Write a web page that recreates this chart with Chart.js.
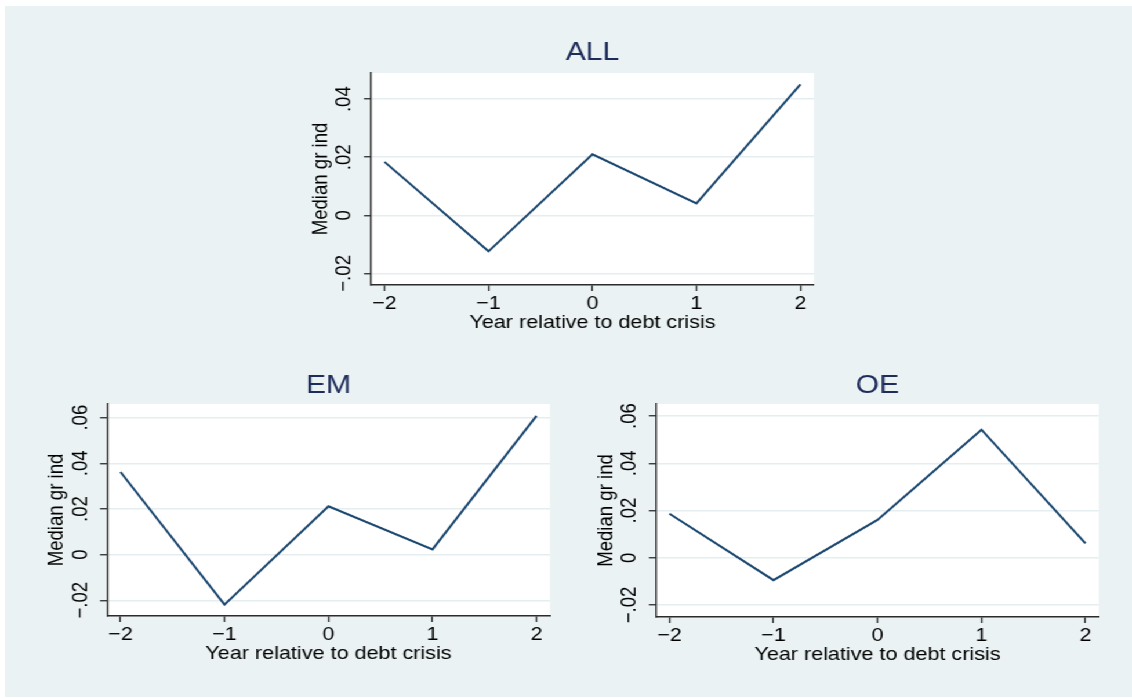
<!DOCTYPE html>
<html>
<head>
<meta charset="utf-8">
<script src="https://cdn.jsdelivr.net/npm/chart.js@4.4.1/dist/chart.umd.min.js"></script>
<style>
  html, body { margin: 0; padding: 0; background: #ffffff; }
  body { width: 1132px; height: 698px; position: relative; overflow: hidden; }
  #bg { position: absolute; left: 5px; top: 6px; width: 1127px; height: 691px; background: #EAF2F3; }
  /* the reference is stretched sideways, so draw narrow and widen */
  #wrap { position: absolute; left: 0; top: 0; width: 976px; height: 698px;
          transform: scaleX(1.1598); transform-origin: 0 0; }
  #wrap canvas { position: absolute; left: 0; top: 0; }
</style>
</head>
<body>
<div id="bg"></div>
<div id="wrap">
  <canvas id="cAll" width="976" height="698"></canvas>
  <canvas id="cEm" width="976" height="698"></canvas>
  <canvas id="cOe" width="976" height="698"></canvas>
</div>
<script>
// data
var years = [-2, -1, 0, 1, 2];
var xTickLabels = ['\u22122', '\u22121', '0', '1', '2'];

var allValues = [0.0184, -0.0124, 0.0210, 0.0041, 0.0451];
var emValues  = [0.0362, -0.0219, 0.0212, 0.0023, 0.0608];
var oeValues  = [0.0186, -0.0095, 0.0160, 0.0542, 0.0061];

var allYTicks = [-0.02, 0, 0.02, 0.04];
var allYTickLabels = ['\u2212.02', '0', '.02', '.04'];
var panelYTicks = [-0.02, 0, 0.02, 0.04, 0.06];
var panelYTickLabels = ['\u2212.02', '0', '.02', '.04', '.06'];

var K = 1132 / 976;
var FONT = '"Liberation Sans", Arial, Helvetica, sans-serif';
var LABEL_SIZE = 18.6;
var LINE_COLOR = '#1A476F';
var AXIS_COLOR = '#2b2b2b';
var GRID_COLOR = '#E4EDEF';

// white plot region + title + rotated y tick labels
var panelPlugin = {
    id: 'panelStuff',
    beforeDraw: function(chart) {
        var a = chart.chartArea;
        var ctx = chart.ctx;
        ctx.save();
        ctx.fillStyle = '#ffffff';
        ctx.fillRect(a.left, a.top, a.right - a.left, a.bottom - a.top);
        ctx.restore();
    },
    afterDraw: function(chart) {
        var a = chart.chartArea;
        var ctx = chart.ctx;
        var opts = chart.options.plugins.panelStuff;
        ctx.save();
        // title
        ctx.fillStyle = '#1E2C5A';
        ctx.font = '26px ' + FONT;
        ctx.textAlign = 'center';
        ctx.textBaseline = 'middle';
        ctx.fillText(opts.title, (a.left + a.right) / 2, a.top - opts.titleGap);
        // y tick labels, vertical like Stata
        var ys = chart.scales.y;
        ctx.fillStyle = '#000000';
        ctx.font = LABEL_SIZE + 'px ' + FONT;
        opts.yTicks.forEach(function(v, i) {
            var py = ys.getPixelForValue(v);
            ctx.save();
            ctx.translate(a.left - 22.8, py);
            ctx.rotate(-Math.PI / 2);
            ctx.fillText(opts.yLabels[i], 0, 0);
            ctx.restore();
        });
        ctx.restore();
    }
};

function makePanel(id, title, values, yTicks, yLabels, yMin, yMax, area, titleGap) {
    // area is the plot region in page pixels: left, top, right, bottom
    var wy = 60, hx = 50;
    var padding = {
        left: area[0] / K - wy,
        top: area[1],
        right: 976 - area[2] / K,
        bottom: 698 - area[3] - hx
    };
    var points = years.map(function(x, i) { return {x: x, y: values[i]}; });

    return new Chart(document.getElementById(id), {
        type: 'line',
        data: {
            datasets: [{
                data: points,
                borderColor: LINE_COLOR,
                borderWidth: 2,
                pointRadius: 0,
                tension: 0,
                fill: false
            }]
        },
        options: {
            responsive: false,
            animation: false,
            devicePixelRatio: 1,
            layout: { padding: padding },
            plugins: {
                legend: { display: false },
                tooltip: { enabled: false },
                panelStuff: { title: title, yTicks: yTicks, yLabels: yLabels, titleGap: titleGap }
            },
            scales: {
                x: {
                    type: 'linear',
                    min: -2.13,
                    max: 2.13,
                    afterBuildTicks: function(s) { s.ticks = years.map(function(v) { return {value: v}; }); },
                    afterFit: function(s) { s.height = hx; },
                    border: { display: true, color: AXIS_COLOR, width: 1.4 },
                    grid: { drawOnChartArea: false, drawTicks: true, tickLength: 6, tickColor: AXIS_COLOR, tickWidth: 1.3 },
                    ticks: {
                        padding: 2,
                        color: '#000000',
                        font: { family: FONT, size: LABEL_SIZE },
                        maxRotation: 0,
                        callback: function(v) { return xTickLabels[years.indexOf(v)]; }
                    },
                    title: {
                        display: true,
                        text: 'Year relative to debt crisis',
                        color: '#000000',
                        font: { family: FONT, size: LABEL_SIZE },
                        padding: { top: 0, bottom: 1.4 }
                    }
                },
                y: {
                    type: 'linear',
                    min: yMin,
                    max: yMax,
                    afterBuildTicks: function(s) { s.ticks = yTicks.map(function(v) { return {value: v}; }); },
                    afterFit: function(s) { s.width = wy; },
                    border: { display: true, color: AXIS_COLOR, width: 1.4 },
                    grid: { color: GRID_COLOR, lineWidth: 1.5, drawTicks: true, tickLength: 6, tickColor: AXIS_COLOR, tickWidth: 1.3 },
                    ticks: { display: false },
                    title: {
                        display: true,
                        text: 'Median gr ind',
                        color: '#000000',
                        font: { family: FONT, size: LABEL_SIZE },
                        padding: { top: 5.7, bottom: 0 }
                    }
                }
            }
        },
        plugins: [panelPlugin]
    });
}

makePanel('cAll', 'ALL', allValues, allYTicks, allYTickLabels, -0.024, 0.049, [371, 73, 814, 285], 19.7);
makePanel('cEm', 'EM', emValues, panelYTicks, panelYTickLabels, -0.0269, 0.066, [107, 404, 550, 616], 18.3);
makePanel('cOe', 'OE', oeValues, panelYTicks, panelYTickLabels, -0.0251, 0.0651, [656, 404, 1099, 617], 18.3);
</script>
</body>
</html>
